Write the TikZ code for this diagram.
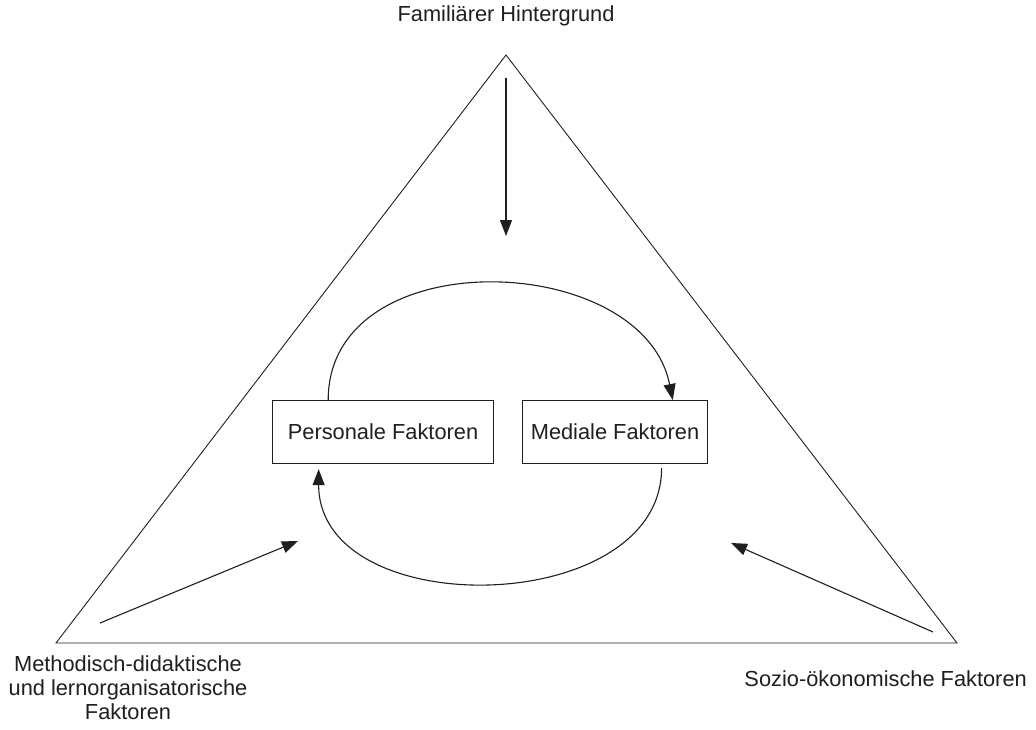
\documentclass[tikz,border=0pt]{standalone}
\usepackage{fontspec}
\setmainfont{Liberation Sans}
\usetikzlibrary{arrows.meta,calc}
\definecolor{ink}{gray}{0.12}
\begin{document}
\begin{tikzpicture}[x=1pt,y=-1pt,
  every node/.style={font=\fontsize{21.8}{24}\selectfont, text=ink, inner sep=0pt},
  line/.style={draw=ink, line width=0.9pt},
  conn/.style={draw=ink, line width=1.1pt, -{Triangle[length=16pt,width=12pt]}},
  factorbox/.style={draw=ink, line width=1.1pt, minimum height=63pt, anchor=north west}]
\useasboundingbox (0,0) rectangle (1036,729);
% triangle
\coordinate (T) at (506,55);
\coordinate (BL) at (56,643);
\coordinate (BR) at (957,643);
\draw[line] (T) -- (BL) -- (BR) -- cycle;
% labels
\node (fam) at (506,16) {Familiärer Hintergrund};
\node[align=center] (meth) at (128,688) {Methodisch-didaktische\\und lernorganisatorische\\Faktoren};
\node[anchor=east] (sozio) at (1027,679) {Sozio-ökonomische Faktoren};
% boxes
\node[factorbox, minimum width=221pt] (pers) at (272,400) {};
\node at (pers.center) {Personale Faktoren};
\node[factorbox, minimum width=185pt] (med) at (522,400) {};
\node at (med.center) {Mediale Faktoren};
% arrows from corners
\coordinate (a1) at (506,78);  \coordinate (a2) at (506,236);
\coordinate (b1) at (100,623); \coordinate (b2) at (298,541);
\coordinate (c1) at (933,632); \coordinate (c2) at (731,543);
\draw[conn] (a1) -- (a2);
\draw[conn] (b1) -- (b2);
\draw[conn] (c1) -- (c2);
% cycle arcs
\coordinate (u1) at ($(pers.north west)!0.253!(pers.north east)$);
\coordinate (u2) at ($(med.north west)!0.81!(med.north east)$);
\draw[conn] (u1) .. controls ($(u1)+(0,-160)$) and ($(u2)+(-30,-150)$) .. (u2);
\coordinate (l1) at ($(med.south west)!0.75!(med.south east)+(0,4)$);
\coordinate (l2) at ($(pers.south west)!0.21!(pers.south east)+(0,5)$);
\draw[conn] (l1) .. controls ($(l1)+(0,150)$) and ($(l2)+(0,155)$) .. (l2);
\end{tikzpicture}
\end{document}
